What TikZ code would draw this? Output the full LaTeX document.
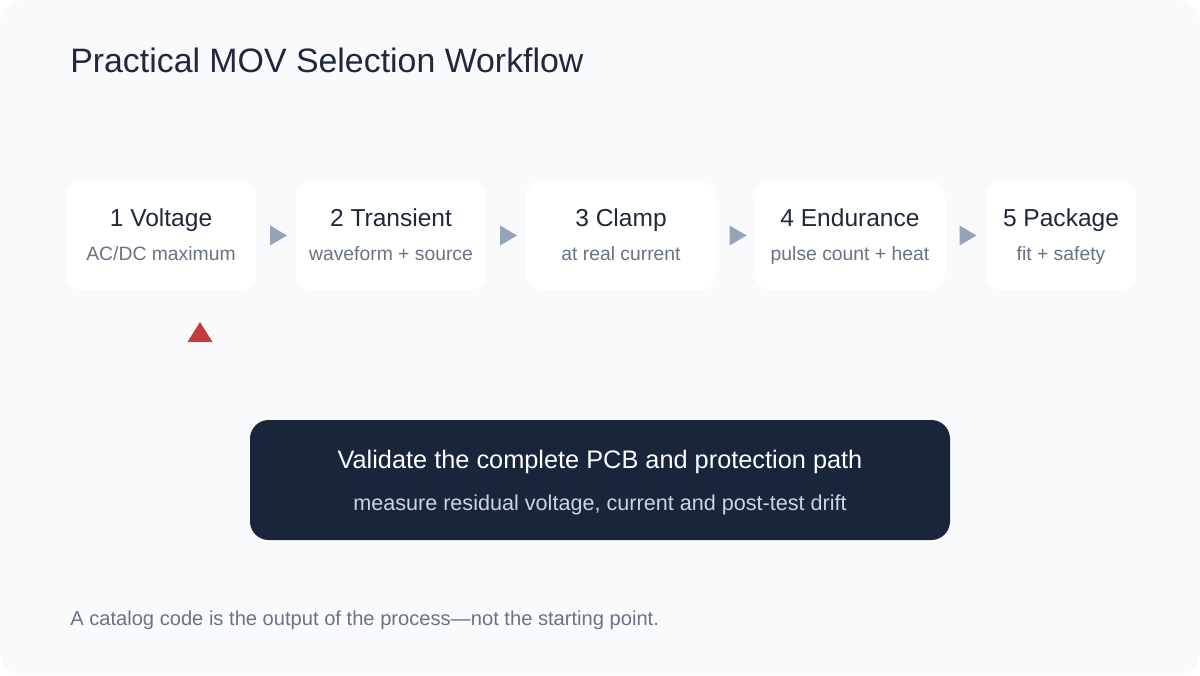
\documentclass[tikz,border=0pt]{standalone}
\usepackage{fontspec}
\setmainfont{Liberation Sans}
\usetikzlibrary{calc}
\definecolor{bgc}{HTML}{F8FAFC}
\definecolor{ink}{HTML}{1E293B}
\definecolor{muted}{HTML}{687384}
\definecolor{arrowc}{HTML}{94A3B8}
\definecolor{darkc}{HTML}{18253A}
\definecolor{lightsub}{HTML}{CBD5E1}
\definecolor{redc}{HTML}{C23B3D}
\begin{document}
\begin{tikzpicture}[x=0.75pt,y=-0.75pt,
  stepbox/.style={fill=white,rounded corners=12pt,inner sep=0pt,minimum height=81.75pt},
  steptitle/.style={anchor=base,text=ink,font=\fontsize{18.4pt}{22pt}\selectfont},
  stepsub/.style={anchor=base,text=muted,font=\fontsize{14.5pt}{17pt}\selectfont},
  flowtri/.style={fill=arrowc},
]
\useasboundingbox (0,0) rectangle (1200,675);
\fill[white] (0,0) rectangle (1200,675);
\fill[bgc,rounded corners=18pt] (0,0) rectangle (1200,675);

\node[anchor=base west,text=ink,font=\fontsize{25.4pt}{30pt}\selectfont,inner sep=0pt] (title) at (70,72) {Practical MOV Selection Workflow};

% step boxes
\node[stepbox,minimum width=142.5pt] (b1) at (161,235.5) {};
\node[stepbox,minimum width=142.5pt] (b2) at (391,235.5) {};
\node[stepbox,minimum width=142.5pt] (b3) at (621,235.5) {};
\node[stepbox,minimum width=142.5pt] (b4) at (850,235.5) {};
\node[stepbox,minimum width=112.5pt] (b5) at (1061,235.5) {};

\node[steptitle] (t1) at (161,226) {1 Voltage};
\node[stepsub] (s1) at (161,260) {AC/DC maximum};
\node[steptitle] (t2) at (391,226) {2 Transient};
\node[stepsub] (s2) at (391,260) {waveform + source};
\node[steptitle] (t3) at (621,226) {3 Clamp};
\node[stepsub] (s3) at (621,260) {at real current};
\node[steptitle] (t4) at (850,226) {4 Endurance};
\node[stepsub] (s4) at (850,260) {pulse count + heat};
\node[steptitle] (t5) at (1061,226) {5 Package};
\node[stepsub] (s5) at (1061,260) {fit + safety};

% flow arrows (triangles between boxes)
\foreach \a/\b in {b1/b2,b2/b3,b3/b4,b4/b5}{
  \coordinate (m) at ($(\a.east)!0.5!(\b.west)$);
  \fill[flowtri] ($(m)+(-6,-10)$) -- ($(m)+(11,0)$) -- ($(m)+(-6,10)$) -- cycle;
}

% red marker
\coordinate (mk) at (200,332);
\fill[redc] ($(mk)+(0,-10)$) -- ($(mk)+(12.5,10)$) -- ($(mk)+(-12.5,10)$) -- cycle;

% validation box
\node[fill=darkc,rounded corners=14pt,minimum width=525pt,minimum height=90pt,inner sep=0pt] (val) at (600,480) {};
\node[anchor=base,text=white,font=\fontsize{19pt}{23pt}\selectfont] (vt) at (600,468) {Validate the complete PCB and protection path};
\node[anchor=base,text=lightsub,font=\fontsize{16.2pt}{19pt}\selectfont] (vs) at (600,510) {measure residual voltage, current and post-test drift};

\node[anchor=base west,text=muted,font=\fontsize{15.1pt}{18pt}\selectfont,inner sep=0pt] (foot) at (70,625) {A catalog code is the output of the process—not the starting point.};
\end{tikzpicture}
\end{document}
